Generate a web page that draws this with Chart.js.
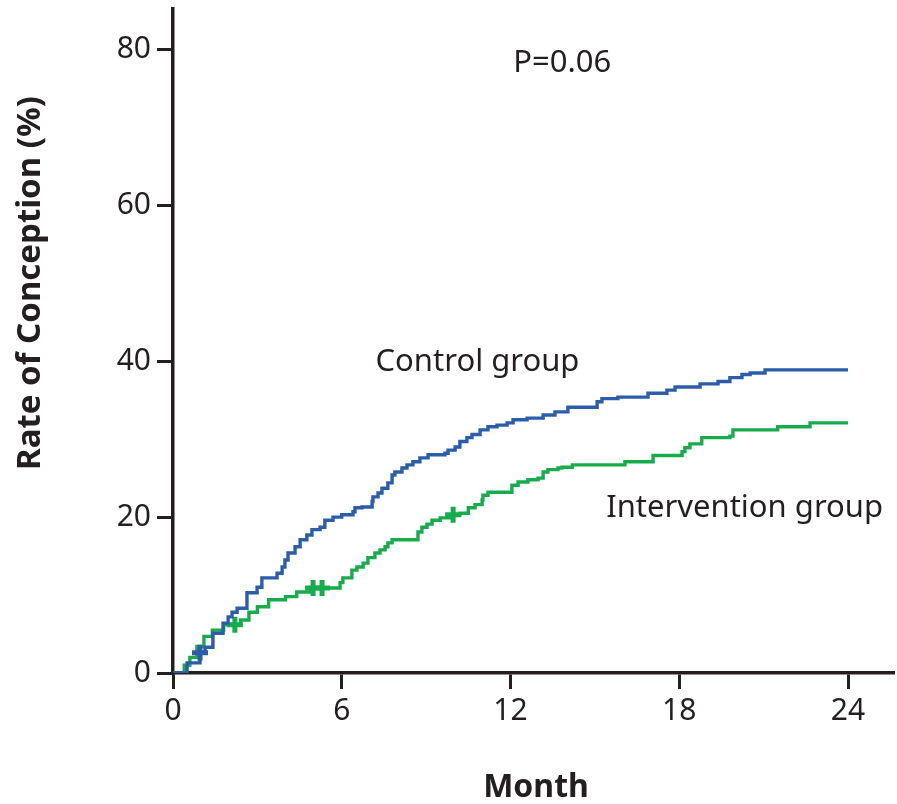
<!DOCTYPE html>
<html>
<head>
<meta charset="utf-8">
<script src="https://cdn.jsdelivr.net/npm/chart.js@4.4.1/dist/chart.umd.min.js"></script>
<style>
  html, body { margin: 0; padding: 0; background: #fff; }
  #wrap { width: 897px; height: 804px; }
</style>
</head>
<body>
<div id="wrap"><canvas id="kmChart" width="897" height="804"></canvas></div>
<script>
// Kaplan-Meier style conception curves
const xTicks = [0, 6, 12, 18, 24];
const yTicks = [0, 20, 40, 60, 80];

const controlMonths = [0, 0.5, 0.96, 1.14, 1.42, 1.78, 1.96, 2.1, 2.28, 2.63, 2.99, 3.16, 3.7, 3.88, 3.98, 4.09, 4.34, 4.52,
  4.76, 4.94, 5.23, 5.4, 5.69, 6.0, 6.4, 6.47, 6.72, 7.08, 7.11, 7.29, 7.43, 7.64, 7.79, 7.89, 8.14, 8.32, 8.53, 8.78, 9.07,
  9.67, 9.78, 10.03, 10.2, 10.45, 10.63, 10.92, 11.2, 11.52, 11.88, 12.09, 12.59, 13.16, 13.58, 14.04, 15.08, 15.25, 15.82,
  16.89, 17.56, 17.85, 18.74, 19.38, 19.8, 20.23, 20.52, 21.05, 24];
const controlRate = [0, 1.3, 2.6, 3.3, 5.1, 6.4, 7.2, 7.8, 8.3, 10.3, 11.0, 12.2, 12.8, 13.6, 14.5, 15.4, 16.2, 17.1,
  17.7, 18.4, 18.7, 19.6, 20.0, 20.3, 20.7, 21.2, 21.3, 22.0, 22.6, 23.1, 23.7, 24.4, 25.4, 25.8, 26.3, 26.7, 27.1, 27.6, 28.0,
  28.2, 28.6, 29.0, 29.7, 30.2, 30.6, 31.2, 31.6, 31.8, 32.1, 32.5, 32.7, 33.1, 33.5, 34.1, 34.8, 35.2, 35.4,
  35.9, 36.3, 36.7, 37.1, 37.4, 37.9, 38.3, 38.5, 38.9, 38.9];

const interventionMonths = [0, 0.4, 0.6, 0.85, 1.1, 1.4, 1.8, 2.4, 2.7, 3.0, 3.4, 4.0, 4.4, 4.9, 5.94, 6.04, 6.36, 6.54,
  6.76, 6.93, 7.18, 7.36, 7.54, 7.64, 7.79, 8.71, 8.85, 9.03, 9.21, 9.5, 9.96, 10.2, 10.5, 10.74, 10.99, 11.02, 11.2,
  12.05, 12.27, 12.62, 12.98, 13.16, 13.33, 13.69, 13.83, 14.2, 16.07, 17.07, 18.1, 18.2, 18.38, 18.8, 19.8, 19.91,
  21.5, 22.65, 24];
const interventionRate = [0, 1.0, 2.0, 3.4, 4.7, 5.5, 6.2, 6.8, 7.8, 8.5, 9.4, 9.8, 10.4, 10.9, 11.6, 12.2, 13.2, 13.6,
  14.1, 14.8, 15.4, 15.8, 16.2, 16.7, 17.1, 18.1, 18.7, 19.1, 19.6, 19.9, 20.3, 20.5, 21.2, 21.6, 22.2, 22.8, 23.2,
  24.1, 24.5, 24.8, 25.0, 25.8, 26.1, 26.3, 26.4, 26.7, 27.1, 27.9, 28.4, 28.9, 29.4, 30.2, 30.4, 31.2,
  31.6, 32.1, 32.1];

// censored observations (tick marks on the curves)
const controlCensorMonths = [0.96];
const controlCensorRate = [2.6];
const interventionCensorMonths = [2.2, 4.98, 5.3, 9.96];
const interventionCensorRate = [6.2, 10.9, 10.9, 20.3];

const blue = '#2b5dab';
const green = '#17ab4c';
const ink = '#231f20';
const FONT = "'Noto Sans', 'Open Sans', sans-serif";

// steps plus censor points in one series; censor points sit on the current step
function curve(xs, ys, cxs, cys) {
  const steps = xs.map((x, i) => ({ x: x, y: ys[i], censored: false }));
  const marks = cxs.map((x, i) => ({ x: x, y: cys[i], censored: true }));
  return steps.concat(marks).sort((a, b) => a.x - b.x || (a.censored - b.censored));
}

function censorRadius(ctx) {
  return ctx.raw && ctx.raw.censored ? 8 : 0;
}

// chart.js reserves room for the outer tick labels; the axes here run past them
function noEdgePadding(scale) {
  scale.paddingTop = 0;
  scale.paddingRight = 0;
}

const labelsPlugin = {
  id: 'kmLabels',
  afterDraw(chart) {
    const ctx = chart.ctx;
    const xs = chart.scales.x, ys = chart.scales.y;
    ctx.save();
    ctx.fillStyle = ink;
    ctx.textBaseline = 'middle';
    ctx.textAlign = 'left';
    ctx.font = '31px ' + FONT;
    ctx.fillText('P=0.06', xs.getPixelForValue(12.1), ys.getPixelForValue(78.2));
    ctx.fillText('Control group', xs.getPixelForValue(7.2), ys.getPixelForValue(39.9));
    ctx.fillText('Intervention group', xs.getPixelForValue(15.4), ys.getPixelForValue(21.2));

    // axis titles
    ctx.font = 'bold 32px ' + FONT;
    ctx.textAlign = 'center';
    ctx.fillText('Month', 536, 788);
    ctx.font = 'bold 33px ' + FONT;
    ctx.translate(31, 283);
    ctx.rotate(-Math.PI / 2);
    ctx.fillText('Rate of Conception (%)', 0, 0);
    ctx.restore();
  }
};

const canvas = document.getElementById('kmChart');
new Chart(canvas.getContext('2d'), {
  type: 'line',
  data: {
    datasets: [
      {
        label: 'Control group',
        data: curve(controlMonths, controlRate, controlCensorMonths, controlCensorRate),
        stepped: true,
        borderColor: blue,
        borderWidth: 3.4,
        pointStyle: 'cross',
        pointRadius: censorRadius,
        pointBorderWidth: 5,
        pointBorderColor: blue,
        fill: false
      },
      {
        label: 'Intervention group',
        data: curve(interventionMonths, interventionRate, interventionCensorMonths, interventionCensorRate),
        stepped: true,
        borderColor: green,
        borderWidth: 3.4,
        pointStyle: 'cross',
        pointRadius: censorRadius,
        pointBorderWidth: 5,
        pointBorderColor: green,
        fill: false
      }
    ]
  },
  options: {
    responsive: false,
    animation: false,
    events: [],
    devicePixelRatio: 1,
    layout: { padding: { top: 9, right: 4, left: 0, bottom: 0 } },
    plugins: {
      legend: { display: false },
      tooltip: { enabled: false }
    },
    scales: {
      x: {
        type: 'linear',
        min: 0,
        max: 25.6,
        afterBuildTicks: (scale) => { scale.ticks = xTicks.map(v => ({ value: v })); },
        afterFit: (scale) => { scale.height = 131; noEdgePadding(scale); },
        ticks: { color: ink, padding: 4, maxRotation: 0, font: { family: FONT, size: 30 } },
        grid: { drawOnChartArea: false, drawTicks: true, tickLength: 16, lineWidth: 3, color: ink },
        border: { display: true, width: 3.5, color: ink }
      },
      y: {
        type: 'linear',
        min: 0,
        max: 85.2,
        afterBuildTicks: (scale) => { scale.ticks = yTicks.map(v => ({ value: v })); },
        afterFit: (scale) => { scale.width = 173; noEdgePadding(scale); },
        ticks: { color: ink, padding: 6, font: { family: FONT, size: 30 } },
        grid: { drawOnChartArea: false, drawTicks: true, tickLength: 16, lineWidth: 3, color: ink },
        border: { display: true, width: 3.5, color: ink }
      }
    }
  },
  plugins: [labelsPlugin]
});
</script>
</body>
</html>
